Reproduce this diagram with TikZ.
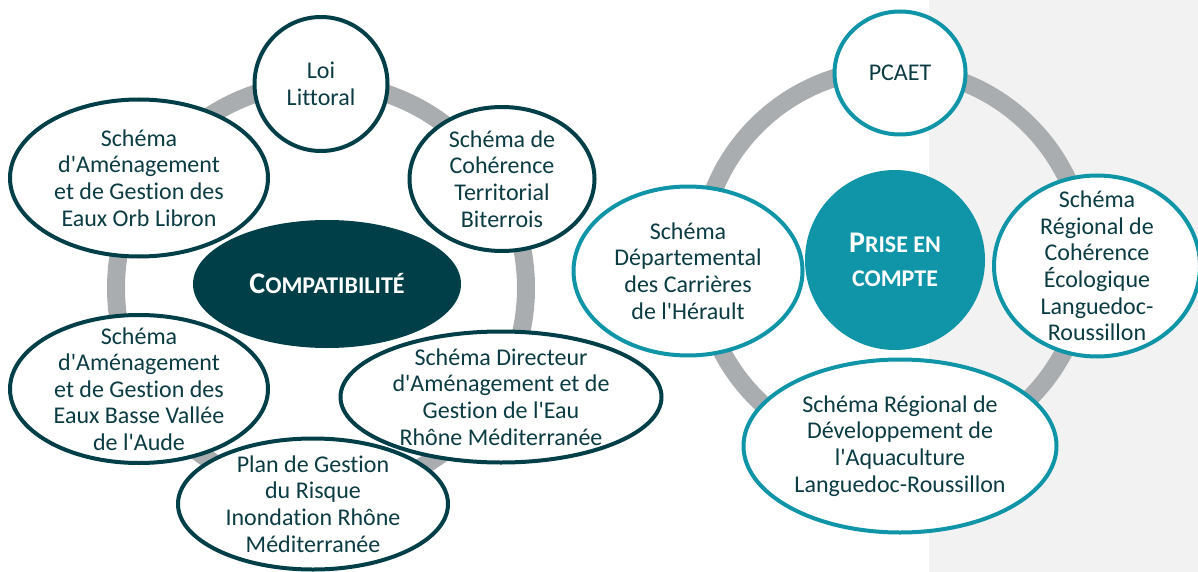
\documentclass[tikz,border=0pt]{standalone}
\usepackage{fontspec}
\setmainfont{Carlito}[Ligatures={NoCommon}]
\usepackage{tikz}
\usetikzlibrary{shapes.geometric}

\definecolor{darkteal}{HTML}{003F47}
\definecolor{lightteal}{HTML}{0F94A8}
\definecolor{ringgray}{HTML}{A9ADAF}
\definecolor{panelgray}{HTML}{F2F2F2}
\definecolor{textteal}{HTML}{0B3B43}
\newcommand{\sq}{\textquotesingle}

\begin{document}
\begin{tikzpicture}[x=1pt,y=-1pt]

\tikzset{ringline/.style={draw=ringgray, line width=18pt},
  compatbox/.style={ellipse, draw=darkteal, line width=4pt, fill=white, inner sep=0pt},
  prisebox/.style={ellipse, draw=lightteal, line width=4pt, fill=white, inner sep=0pt},
  boxtext/.style={text=textteal, align=center, inner sep=0pt, font=\fontsize{24}{26.6}\selectfont},
  headtext/.style={text=white, align=center, inner sep=0pt, font=\bfseries\fontsize{24}{34}\selectfont}}

\useasboundingbox (0,0) rectangle (1198,572);
\fill[panelgray] (929,0) rectangle (1198,572);

\draw[ringline] (321,288) circle[radius=205pt];
\draw[ringline] (893,262) circle[radius=193pt];

\node[ellipse, fill=darkteal, minimum width=268pt, minimum height=128pt] (compat) at (327,284) {};
\node[headtext] (compat-t) at (compat) {{\fontsize{30}{34}\selectfont C}OMPATIBILITÉ};

\node[compatbox, minimum width=133pt, minimum height=134pt] (loi) at (321,84) {};
\node[boxtext] (loi-t) at (loi) {Loi\\Littoral};
\node[compatbox, minimum width=258pt, minimum height=157pt] (orb) at (139,178) {};
\node[boxtext] (orb-t) at (orb) {Schéma\\d\sq Aménagement\\et de Gestion des\\Eaux Orb Libron};
\node[compatbox, minimum width=185pt, minimum height=144pt] (scot) at (502,179) {};
\node[boxtext] (scot-t) at (scot) {Schéma de\\Cohérence\\Territorial\\Biterrois};
\node[compatbox, minimum width=258pt, minimum height=148pt] (aude) at (139,389) {};
\node[boxtext] (aude-t) at (aude) {Schéma\\d\sq Aménagement\\et de Gestion des\\Eaux Basse Vallée\\de l\sq Aude};
\node[compatbox, minimum width=270pt, minimum height=131pt] (pgri) at (313,504) {};
\node[boxtext] (pgri-t) at (pgri) {Plan de Gestion\\du Risque\\Inondation Rhône\\Méditerranée};
\node[compatbox, minimum width=321pt, minimum height=131pt] (sdage) at (501,397) {};
\node[boxtext] (sdage-t) at (sdage) {Schéma Directeur\\d\sq Aménagement et de\\Gestion de l\sq Eau\\Rhône Méditerranée};

\node[circle, fill=lightteal, minimum size=180pt] (prise) at (895,260) {};
\node[headtext] (prise-t) at (prise) {{\fontsize{30}{34}\selectfont P}RISE EN\\COMPTE};

\node[prisebox, minimum width=131pt, minimum height=123pt] (pcaet) at (900,73) {};
\node[boxtext] (pcaet-t) at (pcaet) {PCAET};
\node[prisebox, minimum width=229pt, minimum height=169pt] (carr) at (688,271) {};
\node[boxtext] (carr-t) at (carr) {Schéma\\Départemental\\des Carrières\\de l\sq Hérault};
\node[prisebox, minimum width=206pt, minimum height=181pt] (srce) at (1097,266) {};
\node[boxtext] (srce-t) at (srce) {Schéma\\Régional de\\Cohérence\\Écologique\\Languedoc-\\Roussillon};
\node[prisebox, minimum width=313pt, minimum height=173pt] (aqua) at (900,446) {};
\node[boxtext] (aqua-t) at (aqua) {Schéma Régional de\\Développement de\\l\sq Aquaculture\\Languedoc-Roussillon};

\end{tikzpicture}
\end{document}
